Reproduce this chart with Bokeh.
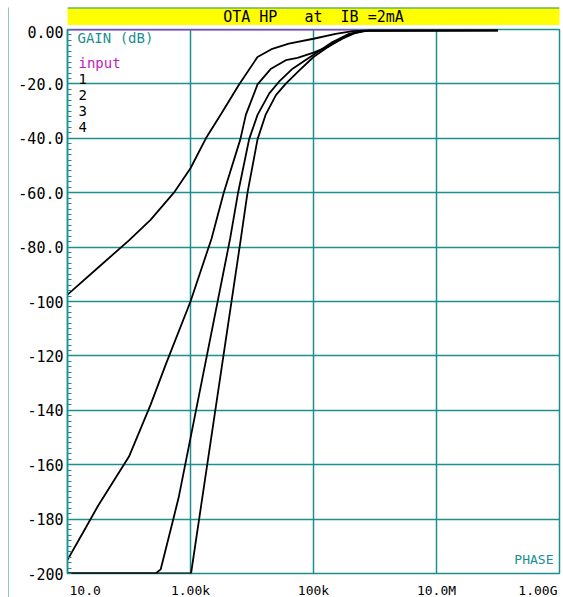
from bokeh.plotting import figure
from bokeh.models import FixedTicker, Label, Range1d, ColumnDataSource
from bokeh.layouts import column, row
from bokeh.core.properties import value
from bokeh.embed import file_html
from bokeh.resources import INLINE

TEAL = "#1a9090"
MAGENTA = "#c020c0"
FONT = "DejaVu Sans Mono"
NB = "\u00a0"

title_text = "OTA HP" + NB * 3 + "at" + NB * 2 + "IB =2mA"

y_ticks = [0, -20, -40, -60, -80, -100, -120, -140, -160, -180, -200]
y_tick_labels = ["0.00", "-20.0", "-40.0", "-60.0", "-80.0", "-100",
                 "-120", "-140", "-160", "-180", "-200"]
x_ticks = [10, 1e3, 1e5, 1e7, 1e9]
x_tick_labels = ["10.0", "1.00k", "100k", "10.0M", "1.00G"]

legend_names = ["input", "1", "2", "3", "4"]

# frequency (Hz) and gain (dB)
input_freq = [10, 1e8]
input_db = [0, 0]

c1_freq = [10, 31.6, 100, 224, 537, 1000, 1780, 3160, 6170, 12300, 21400,
           39800, 1e5, 2.29e5, 4.37e5, 7.94e5, 1e8]
c1_db = [-97.5, -87.5, -77.5, -70, -60, -51, -40, -31, -20.2, -10.1, -7.1,
         -5.2, -3.4, -1.6, -0.6, -0.3, -0.3]

c2_freq = [10, 17.8, 31.6, 100, 224, 398, 1000, 2190, 3470, 6460, 7940,
           12300, 20400, 35500, 55000, 1e5, 1.82e5, 2.95e5, 4.9e5, 7.94e5, 1e8]
c2_db = [-195, -185, -175, -157, -138, -123, -100, -77, -60, -40.4, -31.4,
         -20.2, -14.4, -11.3, -10.4, -8.5, -6.1, -3.4, -1.2, -0.3, -0.3]

c3_freq = [10, 271, 327, 532, 643, 4400, 5940, 8970, 12300, 19100, 27500,
           45700, 1e5, 2.04e5, 3.8e5, 6.61e5, 1e8]
c3_db = [-200, -200, -198.5, -179.5, -172, -77, -60, -40.4, -31.4, -23.5,
         -19.2, -14.4, -9.3, -4.6, -1.6, -0.4, -0.3]

c4_freq = [10, 1020, 6580, 8450, 12300, 16600, 24500, 35500, 58900, 1e5,
           2.04e5, 3.8e5, 6.61e5, 1e8]
c4_db = [-200, -200, -77, -60, -40.4, -31.4, -24.1, -19.9, -15, -10.1,
         -5.2, -1.8, -0.5, -0.3]

curves = [(c1_freq, c1_db), (c2_freq, c2_db), (c3_freq, c3_db), (c4_freq, c4_db)]

W = 554
x_range = Range1d(10, 1e9)

# ---- thin teal edge on the left ----
edge = figure(width=9, height=597, x_range=Range1d(0, 1), y_range=Range1d(0, 1),
              x_axis_location=None, y_axis_location=None, output_backend="svg",
              toolbar_location=None, min_border_left=8, min_border_right=0,
              min_border_top=7, min_border_bottom=0)
edge.grid.visible = False
edge.outline_line_color = None
edge.background_fill_color = TEAL
edge.border_fill_color = "white"

# ---- title bar ----
tp = figure(width=W, height=25, x_range=Range1d(0, 1), y_range=Range1d(0, 1),
            x_axis_location=None, y_axis_location=None, output_backend="svg",
            toolbar_location=None, min_border_left=0, min_border_right=0,
            min_border_top=7, min_border_bottom=0)
tp.grid.visible = False
tp.background_fill_color = "#ffff00"
tp.border_fill_color = "white"
tp.outline_line_color = None
tp.text(x=[0.5], y=[0.47], text=[title_text], text_align="center",
        text_baseline="middle", text_font=value(FONT), text_font_size="15px",
        text_color="black")
tp.hspan(y=[1], line_color=TEAL, line_width=2)

# ---- main plot ----
p = figure(width=W, height=557, x_axis_type="log", x_axis_location=None,
           x_range=x_range, y_range=Range1d(-200, 0),
           output_backend="svg", toolbar_location=None,
           min_border_left=58, min_border_right=4, min_border_top=4,
           min_border_bottom=9)
p.background_fill_color = "white"
p.border_fill_color = "white"
p.outline_line_color = TEAL
p.outline_line_width = 1.5

minor = [v for v in range(-198, 0, 2) if v % 20 != 0]
yax = p.yaxis[0]
yax.ticker = FixedTicker(ticks=y_ticks, minor_ticks=minor)
yax.major_label_overrides = {t: s for t, s in zip(y_ticks, y_tick_labels)}
yax.major_label_text_font = FONT
yax.major_label_text_font_size = "15px"
yax.major_label_text_color = "black"
yax.major_label_standoff = 4
yax.axis_line_color = TEAL
yax.axis_line_width = 1.5
yax.major_tick_in = 4
yax.major_tick_out = 0
yax.minor_tick_in = 4
yax.minor_tick_out = 0
yax.major_tick_line_color = TEAL
yax.minor_tick_line_color = TEAL

p.ygrid.ticker = FixedTicker(ticks=y_ticks[1:-1])
p.xgrid.ticker = FixedTicker(ticks=x_ticks[1:-1])
for g in (p.xgrid, p.ygrid):
    g.grid_line_color = TEAL
    g.grid_line_width = 1.5
    g.grid_line_alpha = 1.0

p.line(input_freq, input_db, line_color=MAGENTA, line_width=2)
for fx, dy in curves:
    p.line(fx, dy, line_color="black", line_width=1.8)

p.add_layout(Label(x=10, y=0, x_offset=10, y_offset=-8, text="GAIN (dB)",
                   text_baseline="middle", text_font=FONT,
                   text_font_size="14px", text_color=TEAL))
leg_offsets = [-33, -49, -65, -81, -97]
for name, off in zip(legend_names, leg_offsets):
    p.add_layout(Label(x=10, y=0, x_offset=11, y_offset=off, text=name,
                       text_baseline="middle", text_font=FONT,
                       text_font_size="14px",
                       text_color=MAGENTA if name == "input" else "black"))

p.add_layout(Label(x=1e9, y=-200, x_offset=-6, y_offset=14, text="PHASE",
                   text_align="right", text_baseline="middle",
                   text_font=FONT, text_font_size="13px", text_color=TEAL))

# ---- x tick label strip (same x scale as the plot) ----
sp = figure(width=W, height=15, x_axis_type="log", x_range=x_range,
            y_range=Range1d(0, 1), x_axis_location=None, y_axis_location=None,
            output_backend="svg", toolbar_location=None,
            min_border_left=58, min_border_right=4, min_border_top=0,
            min_border_bottom=0)
sp.grid.visible = False
sp.outline_line_color = None
sp.background_fill_color = "white"
sp.border_fill_color = "white"
src = ColumnDataSource(dict(x=x_ticks, y=[0.5] * len(x_ticks), text=x_tick_labels,
                            align=["left", "center", "center", "center", "right"],
                            dx=[2, 0, 0, 0, -2]))
sp.text(x="x", y="y", text="text", text_align="align", x_offset="dx",
        text_baseline="middle", text_font=value(FONT), text_font_size="13px",
        text_color="black", source=src)

layout = row(edge, column(tp, p, sp, spacing=0), spacing=0)
open("out.html", "w").write(file_html(layout, INLINE))
